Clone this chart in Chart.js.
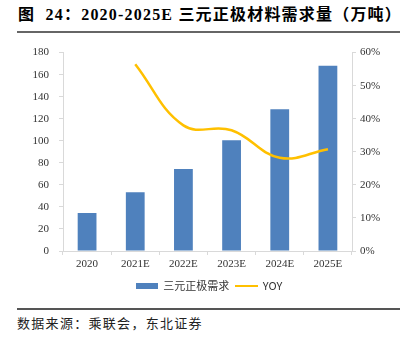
<!DOCTYPE html>
<html>
<head>
<meta charset="utf-8">
<script src="https://cdn.jsdelivr.net/npm/chart.js@4.4.1/dist/chart.umd.min.js"></script>
<style>
  html, body { margin: 0; padding: 0; background: #fff; }
  body { width: 404px; height: 342px; position: relative; overflow: hidden; }
  #title { position: absolute; left: 18px; top: 5px; font: bold 16px "Liberation Serif", "Noto Sans CJK SC", serif; letter-spacing: 1.2px; color: #000; white-space: pre; line-height: 19px; }
  #rule1 { position: absolute; left: 17px; top: 31px; width: 383px; height: 2px; background: #666; }
  #rule2 { position: absolute; left: 17px; top: 308px; width: 383px; height: 1.5px; background: #555; }
  #source { position: absolute; left: 17px; top: 315px; font: 13px "Noto Sans CJK SC", sans-serif; letter-spacing: 1.3px; color: #222; white-space: nowrap; line-height: 16px; }
  #wrap { position: absolute; left: 0; top: 36px; width: 404px; height: 265px; }
</style>
</head>
<body>
<div id="title">图  24：2020-2025E 三元正极材料需求量（万吨）</div>
<div id="rule1"></div>
<div id="wrap"><canvas id="c"></canvas></div>
<div id="rule2"></div>
<div id="source">数据来源：乘联会，东北证券</div>
<script>
const categories = ['2020', '2021E', '2022E', '2023E', '2024E', '2025E'];
const demand = [34.4, 53.2, 74.4, 100.5, 128.5, 168];
const yoy = [null, 56.5, 38, 36.5, 28.2, 30.8];
const seriesNames = ['三元正极需求', 'YOY'];

const barColor = '#4f81bd';
const lineColor = '#ffc000';
const axisColor = '#d9d9d9';

function swatch(w, h, color) {
  const c = document.createElement('canvas');
  c.width = w; c.height = h;
  const g = c.getContext('2d');
  g.fillStyle = color; g.fillRect(0, 0, w, h);
  return c;
}
const barSwatch = swatch(22, 6, barColor);
const lineSwatch = swatch(23, 2, lineColor);

Chart.defaults.font.family = '"Liberation Serif", "Noto Sans CJK SC", serif';
Chart.defaults.font.size = 11;
Chart.defaults.color = '#333';

const legendShift = {
  id: 'legendShift',
  afterLayout(chart) {
    if (chart.legend) { chart.legend.left += 7; chart.legend.right += 7; }
  }
};

new Chart(document.getElementById('c'), {
  data: {
    labels: categories,
    datasets: [
      {
        type: 'bar', label: seriesNames[0], data: demand, yAxisID: 'y',
        backgroundColor: barColor, barPercentage: 0.39, categoryPercentage: 1, order: 1
      },
      {
        type: 'line', label: seriesNames[1], data: yoy, yAxisID: 'y1',
        borderColor: lineColor, borderWidth: 2.5, pointRadius: 0, tension: 0.4,
        fill: false, order: 0
      }
    ]
  },
  plugins: [legendShift],
  options: {
    responsive: true, maintainAspectRatio: false, animation: false,
    layout: { padding: { top: 16.5, left: 0, right: 0, bottom: 0 } },
    plugins: {
      tooltip: { enabled: false },
      legend: {
        position: 'bottom',
        labels: {
          usePointStyle: true, pointStyleWidth: 22, boxHeight: 11, padding: 6,
          font: { family: '"Noto Sans CJK SC", sans-serif', size: 11 },
          color: '#333',
          generateLabels: () => [
            { text: seriesNames[0], pointStyle: barSwatch, fillStyle: barColor, strokeStyle: 'transparent', lineWidth: 0, hidden: false, datasetIndex: 0, fontColor: '#333' },
            { text: seriesNames[1], pointStyle: lineSwatch, fillStyle: lineColor, strokeStyle: 'transparent', lineWidth: 0, hidden: false, datasetIndex: 1, fontColor: '#333' }
          ]
        }
      }
    },
    scales: {
      x: {
        grid: { display: true, drawOnChartArea: false, color: axisColor, tickLength: 4, offset: true },
        border: { color: axisColor },
        ticks: { padding: 3, color: '#333' },
        afterFit: s => { s.height = 23; }
      },
      y: {
        position: 'left', min: 0, max: 180,
        ticks: { stepSize: 20, padding: 10, color: '#333' },
        grid: { display: true, drawOnChartArea: false, color: axisColor, tickLength: 4 },
        border: { color: axisColor },
        afterFit: s => { s.width = 63; }
      },
      y1: {
        position: 'right', min: 0, max: 60,
        ticks: { stepSize: 10, padding: 4, color: '#333', callback: v => v + '%' },
        grid: { display: true, drawOnChartArea: false, color: axisColor, tickLength: 4 },
        border: { color: axisColor },
        afterFit: s => { s.width = 52; }
      }
    }
  }
});
</script>
</body>
</html>
